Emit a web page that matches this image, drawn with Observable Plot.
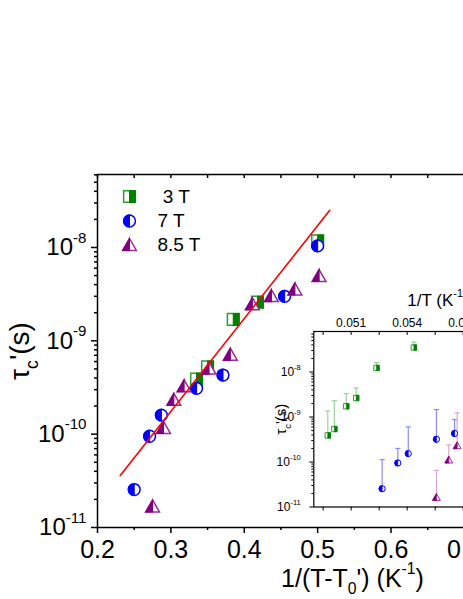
<!DOCTYPE html>
<html><head><meta charset="utf-8">
<script src="https://cdn.jsdelivr.net/npm/d3@7"></script>
<script src="https://cdn.jsdelivr.net/npm/@observablehq/plot@0.6"></script>
<style>
html,body{margin:0;padding:0;background:#fff;overflow:hidden;width:463px;height:599px;}
#wrap{position:relative;width:463px;height:599px;overflow:hidden;background:#fff;}
#wrap svg{position:absolute;max-width:none !important;background:transparent !important;}
</style></head><body><div id="wrap"></div>
<script>
// ---------- main plot data: tau_c' vs 1/(T-T0') ----------
const x3T  = [0.335, 0.350, 0.385, 0.418, 0.500];
const y3T  = [3.9e-10, 5.25e-10, 1.7e-9, 2.6e-9, 1.18e-8];
const x7T  = [0.250, 0.271, 0.287, 0.335, 0.371, 0.455, 0.500];
const y7T  = [2.55e-11, 9.5e-11, 1.6e-10, 3.1e-10, 4.3e-10, 3.0e-9, 1.04e-8];
const x85T = [0.275, 0.290, 0.304, 0.318, 0.352, 0.381, 0.411, 0.437, 0.469, 0.502];
const y85T = [1.7e-11, 1.18e-10, 2.36e-10, 3.3e-10, 5.1e-10, 7.2e-10, 2.5e-9, 3.05e-9, 3.6e-9, 5.0e-9];
const fitX = [0.231, 0.5165];
const fitY = [3.6e-11, 2.5e-8];
const legendLabels = ["\u00a03 T", "7 T", "8.5 T"];

// ---------- inset data: tau_c' vs 1/T with upper error bars ----------
const invT3T  = [0.04975, 0.0501, 0.05074, 0.05127, 0.05236, 0.05436];
const tau3T   = [3.9e-10, 5.4e-10, 1.73e-9, 2.64e-9, 1.23e-8, 3.5e-8];
const err3T   = [1.36e-9, 2.3e-9, 3.3e-9, 4.4e-9, 1.62e-8, 4.6e-8];
const invT7T  = [0.05266, 0.0535, 0.05406, 0.05557, 0.05654];
const tau7T   = [2.55e-11, 9.5e-11, 1.54e-10, 3.2e-10, 4.3e-10];
const err7T   = [1.13e-10, 2.0e-10, 6.0e-10, 1.46e-9, 8.8e-10];
const invT85T = [0.05557, 0.05623, 0.05668];
const tau85T  = [1.67e-11, 1.13e-10, 2.35e-10];
const err85T  = [6.5e-11, 2.4e-10, 1.23e-9];

// ---------- ticks ----------
const xMajorTicks = [0.2, 0.3, 0.4, 0.5, 0.6, 0.7, 0.8];
const xMinorTicks = [0.25, 0.35, 0.45, 0.55, 0.65, 0.75, 0.85];
const yMajorTicks = [1e-11, 1e-10, 1e-9, 1e-8];
const insetXTicks = [0.0495, 0.051, 0.0525, 0.054, 0.0555, 0.057, 0.0585, 0.06, 0.0615];
const insetXLabelTicks = [0.051, 0.054, 0.057, 0.060];
function minorLog(lo, hi) {
  const out = [];
  for (let e = -12; e <= -6; e++) for (let m = 2; m <= 9; m++) {
    const v = m * Math.pow(10, e);
    if (v > lo && v < hi) out.push(v);
  }
  return out;
}
const fmtPow = d => `10^{${Math.round(Math.log10(d))}}`;
const FONT = "Liberation Sans, Arial, Helvetica, sans-serif";

// ---------- colours ----------
const GREEN = "#008000", GREEN_LINE = "#2aa02a", GREEN_ERR = "#9fd09f";
const BLUE = "#0000ff", BLUE_ERR = "#8c8cff";
const PURPLE = "#800080", PURPLE_LINE = "#9a2a9a", PURPLE_ERR = "#dba6db";

// ---------- half-filled symbols ----------
const R = s => Math.sqrt(s / Math.PI);
const sym = {
  squareFull:  {draw(c, s) { const r = R(s); c.rect(-r, -r, 2 * r, 2 * r); }},
  squareRight: {draw(c, s) { const r = R(s); c.rect(0, -r, r, 2 * r); }},
  circleFull:  {draw(c, s) { const r = R(s); c.moveTo(r, 0); c.arc(0, 0, r, 0, 2 * Math.PI); c.closePath(); }},
  circleLeft:  {draw(c, s) { const r = R(s); c.moveTo(0, -r); c.arc(0, 0, r, -Math.PI / 2, Math.PI / 2, true); c.closePath(); }},
  triFull:     {draw(c, s) { const r = R(s), w = r * 1.15; c.moveTo(0, -r); c.lineTo(w, r); c.lineTo(-w, r); c.closePath(); }},
  triLeft:     {draw(c, s) { const r = R(s), w = r * 1.15; c.moveTo(0, -r); c.lineTo(0, r); c.lineTo(-w, r); c.closePath(); }},
  cap:         {draw(c, s) { const r = R(s); c.moveTo(-r, 0); c.lineTo(r, 0); }}
};
const series = {
  "3T":   {full: sym.squareFull, half: sym.squareRight, line: GREEN_LINE, fill: GREEN},
  "7T":   {full: sym.circleFull, half: sym.circleLeft, line: BLUE, fill: BLUE},
  "8.5T": {full: sym.triFull,    half: sym.triLeft,    line: PURPLE_LINE, fill: PURPLE}
};
function halfDots(data, s, r, sw, extra = {}) {
  return [
    Plot.dot(data, {...extra, symbol: s.full, r, fill: "white", stroke: s.line, strokeWidth: sw}),
    Plot.dot(data, {...extra, symbol: s.half, r, fill: s.fill, stroke: s.fill, strokeWidth: sw * 0.7})
  ];
}
const pts = (xs, ys, es) => xs.map((x, i) => ({x, y: ys[i], e: es ? es[i] : undefined}));

// ---------- main plot ----------
const yTop = Math.pow(10, -7.218);
const main = Plot.plot({
  width: 623, height: 599,
  marginLeft: 97, marginRight: 16, marginTop: 174, marginBottom: 72,
  x: {type: "linear", domain: [0.2, 0.895]},
  y: {type: "log", domain: [1e-11, yTop]},
  style: {fontFamily: FONT, color: "black", background: "transparent"},
  marks: [
    Plot.axisX({anchor: "bottom", ticks: xMajorTicks, tickSize: 6, tickPadding: 7, tickFormat: d => d.toFixed(1), fontSize: 25, strokeWidth: 1.5, label: null}),
    Plot.axisX({anchor: "bottom", ticks: xMinorTicks, tickSize: 3, tickFormat: () => "", strokeWidth: 1.5, label: null}),
    Plot.axisX({anchor: "bottom", ticks: [], fontSize: 25, label: "1/(T-T_{0}') (K^{-1})", labelAnchor: "center", labelOffset: 59, labelArrow: "none"}),
    Plot.axisX({anchor: "bottom", frameAnchor: "top", ticks: xMajorTicks.concat(xMinorTicks), tickSize: 4, tickFormat: () => "", strokeWidth: 1.5, label: null}),
    Plot.axisY({ticks: yMajorTicks, tickSize: 6, tickPadding: 5, tickFormat: fmtPow, fontSize: 24, strokeWidth: 1.5, label: null}),
    Plot.axisY({ticks: minorLog(1e-11, yTop), tickSize: 3, tickFormat: () => "", strokeWidth: 1.5, label: null}),
    Plot.axisY({ticks: [], fontSize: 28, label: "τ_{c}'(s)", labelAnchor: "center", labelOffset: 88, labelArrow: "none"}),
    Plot.frame({stroke: "black", strokeWidth: 1.5}),
    ...halfDots(pts(x3T, y3T), series["3T"], 5.85, 1.5, {x: "x", y: "y"}),
    ...halfDots(pts(x7T, y7T), series["7T"], 5.9, 1.5, {x: "x", y: "y"}),
    ...halfDots(pts(x85T, y85T), series["8.5T"], 6.0, 1.5, {x: "x", y: "y"}),
    Plot.line(pts(fitX, fitY), {x: "x", y: "y", stroke: "#ff0000", strokeWidth: 1.6}),
    // legend
    ...halfDots([0], series["3T"], 5.85, 1.5, {frameAnchor: "top-left", dx: 32, dy: 22}),
    ...halfDots([0], series["7T"], 5.9, 1.5, {frameAnchor: "top-left", dx: 32, dy: 46.5}),
    ...halfDots([0], series["8.5T"], 6.0, 1.5, {frameAnchor: "top-left", dx: 32, dy: 70}),
    Plot.text([legendLabels[0]], {text: d => d, frameAnchor: "top-left", dx: 60, dy: 22, textAnchor: "start", lineAnchor: "middle", fontSize: 19, fill: "black"}),
    Plot.text([legendLabels[1]], {text: d => d, frameAnchor: "top-left", dx: 60, dy: 46.5, textAnchor: "start", lineAnchor: "middle", fontSize: 19, fill: "black"}),
    Plot.text([legendLabels[2]], {text: d => d, frameAnchor: "top-left", dx: 60, dy: 70, textAnchor: "start", lineAnchor: "middle", fontSize: 19, fill: "black"})
  ]
});

// ---------- inset ----------
const iTop = Math.pow(10, -7.1);
const d3i = pts(invT3T, tau3T, err3T), d7i = pts(invT7T, tau7T, err7T), d85i = pts(invT85T, tau85T, err85T);
const inset = Plot.plot({
  width: 322, height: 250,
  marginLeft: 63.3, marginRight: 10.4, marginTop: 61, marginBottom: 13.5,
  x: {type: "linear", domain: [0.049, 0.0623]},
  y: {type: "log", domain: [1e-11, iTop]},
  style: {fontFamily: FONT, color: "black", background: "transparent"},
  marks: [
    Plot.axisX({anchor: "bottom", ticks: insetXTicks, tickSize: 4, tickFormat: () => "", strokeWidth: 1, label: null}),
    Plot.axisX({anchor: "bottom", frameAnchor: "top", ticks: insetXTicks, tickSize: 4, tickFormat: () => "", strokeWidth: 1, label: null}),
    Plot.axisX({anchor: "top", ticks: insetXLabelTicks, tickSize: 0, tickPadding: 5, tickFormat: d => d.toFixed(3), fontSize: 12, label: null}),
    Plot.axisX({anchor: "top", ticks: [], fontSize: 17, label: "1/T (K^{-1})", labelAnchor: "center", labelOffset: 38, labelArrow: "none"}),
    Plot.axisY({ticks: yMajorTicks, tickSize: 4, tickPadding: 9, tickFormat: fmtPow, fontSize: 12, strokeWidth: 1, label: null}),
    Plot.axisY({ticks: minorLog(1e-11, iTop), tickSize: 2, tickFormat: () => "", strokeWidth: 1, label: null}),
    Plot.axisY({ticks: [], fontSize: 15, label: "τ_{c}'(s)", labelAnchor: "center", labelOffset: 38, labelArrow: "none"}),
    Plot.frame({stroke: "black", strokeWidth: 1.2}),
    Plot.ruleX(d3i, {x: "x", y1: "y", y2: "e", stroke: GREEN_ERR, strokeWidth: 1.2}),
    Plot.dot(d3i, {x: "x", y: "e", symbol: sym.cap, r: 2.6, fill: "none", stroke: GREEN_ERR, strokeWidth: 1.2}),
    Plot.ruleX(d7i, {x: "x", y1: "y", y2: "e", stroke: BLUE_ERR, strokeWidth: 1.2}),
    Plot.dot(d7i, {x: "x", y: "e", symbol: sym.cap, r: 2.6, fill: "none", stroke: BLUE_ERR, strokeWidth: 1.2}),
    Plot.ruleX(d85i, {x: "x", y1: "y", y2: "e", stroke: PURPLE_ERR, strokeWidth: 1.2}),
    Plot.dot(d85i, {x: "x", y: "e", symbol: sym.cap, r: 2.6, fill: "none", stroke: PURPLE_ERR, strokeWidth: 1.2}),
    ...halfDots(d3i, series["3T"], 2.7, 1, {x: "x", y: "y"}),
    ...halfDots(d7i, series["7T"], 3.1, 1, {x: "x", y: "y"}),
    ...halfDots(d85i, series["8.5T"], 3.4, 1, {x: "x", y: "y"})
  ]
});

const wrap = document.getElementById("wrap");
main.style.left = "0px"; main.style.top = "0px"; main.style.maxWidth = "none";
inset.style.left = "250px"; inset.style.top = "270px"; inset.style.maxWidth = "none";
wrap.appendChild(main);
wrap.appendChild(inset);

// rich text: ^{...} superscript, _{...} subscript
function richify(svg) {
  d3.select(svg).selectAll("text").each(function () {
    const s = this.textContent;
    if (!/[\^_]\{/.test(s)) return;
    const fs = parseFloat(getComputedStyle(this).fontSize) || 12;
    const parts = s.split(/(\^\{[^}]*\}|_\{[^}]*\})/).filter(p => p !== "");
    const t = d3.select(this);
    t.text(null);
    let cur = 0;
    for (const p of parts) {
      let target = 0, size = fs, str = p;
      if (p.startsWith("^{")) { target = -0.52 * fs; size = 0.63 * fs; str = p.slice(2, -1); }
      else if (p.startsWith("_{")) { target = 0.3 * fs; size = 0.63 * fs; str = p.slice(2, -1); }
      t.append("tspan").attr("dy", (target - cur).toFixed(2)).style("font-size", size + "px").text(str);
      cur = target;
    }
  });
}
richify(main);
richify(inset);
</script></body></html>
